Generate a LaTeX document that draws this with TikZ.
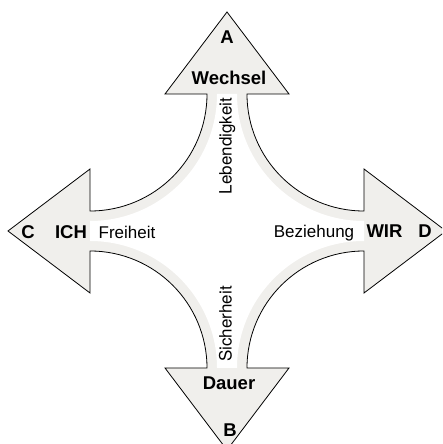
\documentclass[tikz,border=0pt]{standalone}
\usepackage{fontspec}
\setmainfont{Liberation Sans}
\newfontfamily\sidefont{TeX Gyre Heros}
\definecolor{armfill}{RGB}{240,239,236}
\begin{document}
\begin{tikzpicture}[x=1pt,y=1pt,
  outline/.style={draw=black, line width=0.8pt, line join=miter, fill=armfill},
  inner/.style={fill=white, draw=none},
  pole/.style={font=\fontsize{18.5}{20}\selectfont\bfseries, anchor=base, inner sep=0pt},
  value/.style={font=\fontsize{17}{19}\selectfont, anchor=base, inner sep=0pt},
  sidevalue/.style={font=\sidefont\fontsize{17}{19}\selectfont, anchor=base, inner sep=0pt, rotate=90}]
\useasboundingbox (0,0) rectangle (442,444);
\clip (0,0) rectangle (442,444);

% four-armed cross with concave quarter-circle flanks
\path[outline]
  (227,432) -- (165,350) -- (207,350)
  arc[start angle=0, end angle=-90, radius=117] -- (90,275) -- (8,213) -- (90,151) -- (90,193)
  arc[start angle=90, end angle=0, radius=117] -- (165,76) -- (227,-6) -- (289,76) -- (247,76)
  arc[start angle=180, end angle=90, radius=117] -- (364,151) -- (446,213) -- (364,275) -- (364,233)
  arc[start angle=-90, end angle=-180, radius=117] -- (289,350) -- cycle;

% white core, inset from the flanks
\path[inner]
  (217,350) arc[start angle=0, end angle=-90, radius=127] -- (90,203)
  arc[start angle=90, end angle=0, radius=127] -- (237,76)
  arc[start angle=180, end angle=90, radius=127] -- (364,223)
  arc[start angle=-90, end angle=-180, radius=127] -- cycle;

% arrow heads
\node[pole] (a) at (227,400.7) {A};
\node[pole] (wechsel) at (229,359) {Wechsel};
\node[pole] (c) at (28,205.5) {C};
\node[pole] (ich) at (71,205.5) {ICH};
\node[pole] (wir) at (384.5,206.5) {WIR};
\node[pole] (d) at (425,206.5) {D};
\node[pole] (dauer) at (229,54) {Dauer};
\node[pole] (b) at (230,7.3) {B};

% shaft labels
\node[value] (freiheit) at (127,205.5) {Freiheit};
\node[value] (beziehung) at (314,206.5) {Beziehung};
\node[sidevalue] (lebendigkeit) at (231.5,298) {Lebendigkeit};
\node[sidevalue] (sicherheit) at (231.5,120) {Sicherheit};
\end{tikzpicture}
\end{document}
